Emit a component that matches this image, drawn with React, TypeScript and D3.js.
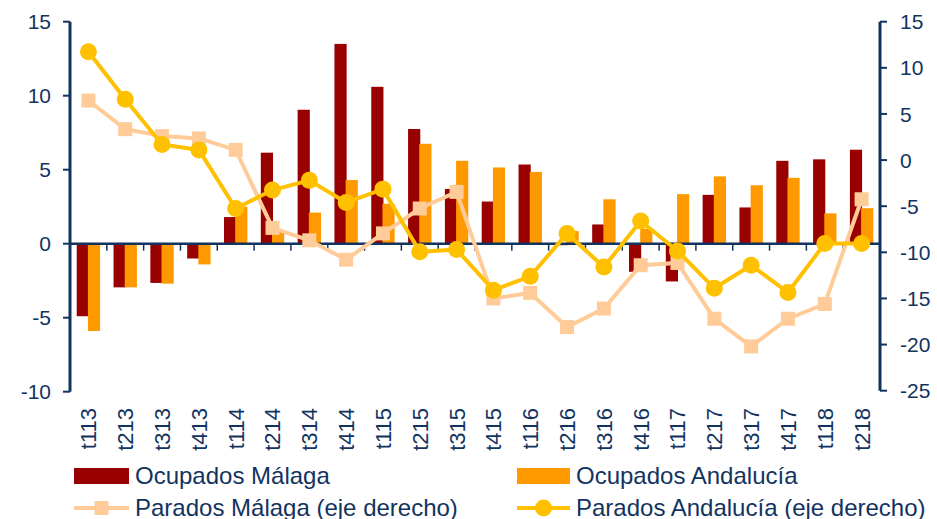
import React from "react";
import * as d3 from "d3";

const categories = ["t113","t213","t313","t413","t114","t214","t314","t414","t115","t215","t315","t415","t116","t216","t316","t416","t117","t217","t317","t417","t118","t218"];
const ocupadosMalaga = [-4.9,-2.95,-2.65,-1.0,1.8,6.15,9.05,13.5,10.6,7.75,3.7,2.85,5.35,-0.1,1.3,-1.9,-2.55,3.3,2.45,5.6,5.7,6.35];
const ocupadosAndalucia = [-5.9,-2.95,-2.7,-1.4,2.5,0.9,2.1,4.3,2.7,6.75,5.6,5.15,4.85,0.85,3.0,1.0,3.35,4.55,3.95,4.45,2.05,2.4];
const paradosMalaga = [6.45,3.35,2.6,2.35,1.1,-7.35,-8.7,-10.8,-7.95,-5.25,-3.45,-15.0,-14.4,-18.1,-16.1,-11.4,-11.15,-17.2,-20.2,-17.2,-15.6,-4.25];
const paradosAndalucia = [11.75,6.6,1.7,1.1,-5.25,-3.25,-2.2,-4.6,-3.15,-9.95,-9.7,-14.1,-12.6,-7.95,-11.6,-6.6,-9.85,-13.9,-11.4,-14.35,-9.05,-9.05];
const leftTicks = [-10,-5,0,5,10,15];
const rightTicks = [-25,-20,-15,-10,-5,0,5,10,15];
const legendLabels = ["Ocupados Málaga","Ocupados Andalucía","Parados Málaga (eje derecho)","Parados Andalucía (eje derecho)"];

const NAVY = "#13335F";
const C_OM = "#990000";
const C_OA = "#FF9900";
const C_PM = "#FFCC99";
const C_PA = "#FFC000";
const FONT = "'Liberation Sans', Arial, sans-serif";

export default function App() {
  const W = 937, H = 519;
  const xL = 70, xR = 880;
  const x = d3.scaleBand<string>().domain(categories).range([xL, xR]).padding(0);
  const bw = x.bandwidth();
  const yL = d3.scaleLinear().domain([-10, 15]).range([391.7, 21.7]);
  const yR = d3.scaleLinear().domain([-25, 15]).range([390.7, 21.7]);
  const y0 = yL(0);
  const groupW = bw * 0.635;
  const gStart = (bw - groupW) / 2;
  const barW = groupW / 2 + 0.5;
  const cx = (c: string) => (x(c) as number) + bw / 2;

  const line = (vals: number[]) =>
    d3.line<number>().x((_, i) => cx(categories[i])).y((v) => yR(v))(vals) as string;

  const sq = 14;
  return (
    <div style={{ position: "absolute", left: 0, top: 0 }}>
      <svg width={W} height={H} style={{ display: "block", background: "#fff" }} fontFamily={FONT}>
        {/* bars */}
        {categories.map((c, i) => {
          const v1 = ocupadosMalaga[i], v2 = ocupadosAndalucia[i];
          const bx = (x(c) as number) + gStart;
          return (
            <g key={c}>
              <rect x={bx} y={Math.min(yL(v1), y0)} width={barW} height={Math.abs(yL(v1) - y0)} fill={C_OM} />
              <rect x={bx + groupW / 2 - 0.5} y={Math.min(yL(v2), y0)} width={barW} height={Math.abs(yL(v2) - y0)} fill={C_OA} />
            </g>
          );
        })}
        {/* zero line & category ticks */}
        <line x1={xL} x2={xR} y1={y0} y2={y0} stroke={NAVY} strokeWidth={2.5} />
        {d3.range(categories.length + 1).map((i) => (
          <line key={i} x1={xL + i * bw} x2={xL + i * bw} y1={y0} y2={y0 + 7} stroke={NAVY} strokeWidth={1.5} />
        ))}
        {/* left axis */}
        <line x1={xL} x2={xL} y1={yL(15)} y2={yL(-10)} stroke={NAVY} strokeWidth={3} />
        {leftTicks.map((t) => (
          <g key={"l" + t}>
            <line x1={xL - 7} x2={xL} y1={yL(t)} y2={yL(t)} stroke={NAVY} strokeWidth={2} />
            <text x={51} y={yL(t)} dy="0.36em" textAnchor="end" fontSize={21} fill={NAVY}>{t}</text>
          </g>
        ))}
        {/* right axis */}
        <line x1={xR} x2={xR} y1={yR(15)} y2={yR(-25)} stroke={NAVY} strokeWidth={3} />
        {rightTicks.map((t) => (
          <g key={"r" + t}>
            <line x1={xR} x2={xR + 7} y1={yR(t)} y2={yR(t)} stroke={NAVY} strokeWidth={2} />
            <text x={900} y={yR(t)} dy="0.36em" textAnchor="start" fontSize={21} fill={NAVY}>{t}</text>
          </g>
        ))}
        {/* category labels */}
        {categories.map((c) => (
          <text key={"t" + c} transform={`translate(${cx(c)},408) rotate(-90)`} dy="0.36em" textAnchor="end" fontSize={22} fill={NAVY}>{c}</text>
        ))}
        {/* lines */}
        <path d={line(paradosMalaga)} fill="none" stroke={C_PM} strokeWidth={4} />
        {paradosMalaga.map((v, i) => (
          <rect key={"pm" + i} x={cx(categories[i]) - sq / 2} y={yR(v) - sq / 2} width={sq} height={sq} fill={C_PM} />
        ))}
        <path d={line(paradosAndalucia)} fill="none" stroke={C_PA} strokeWidth={4} />
        {paradosAndalucia.map((v, i) => (
          <circle key={"pa" + i} cx={cx(categories[i])} cy={yR(v)} r={8.5} fill={C_PA} />
        ))}
        {/* legend */}
        <rect x={74} y={468} width={55} height={16} fill={C_OM} />
        <text x={135} y={483.5} fontSize={24} fill={NAVY}>{legendLabels[0]}</text>
        <rect x={517} y={468} width={53} height={16} fill={C_OA} />
        <text x={576} y={483.5} fontSize={24} fill={NAVY}>{legendLabels[1]}</text>
        <line x1={74} x2={129} y1={508} y2={508} stroke={C_PM} strokeWidth={4} />
        <rect x={101.5 - 7} y={508 - 7} width={14} height={14} fill={C_PM} />
        <text x={135} y={515.5} fontSize={24} fill={NAVY}>{legendLabels[2]}</text>
        <line x1={517} x2={570} y1={508} y2={508} stroke={C_PA} strokeWidth={4} />
        <circle cx={543.5} cy={508} r={8.5} fill={C_PA} />
        <text x={576} y={515.5} fontSize={24} fill={NAVY}>{legendLabels[3]}</text>
      </svg>
    </div>
  );
}
